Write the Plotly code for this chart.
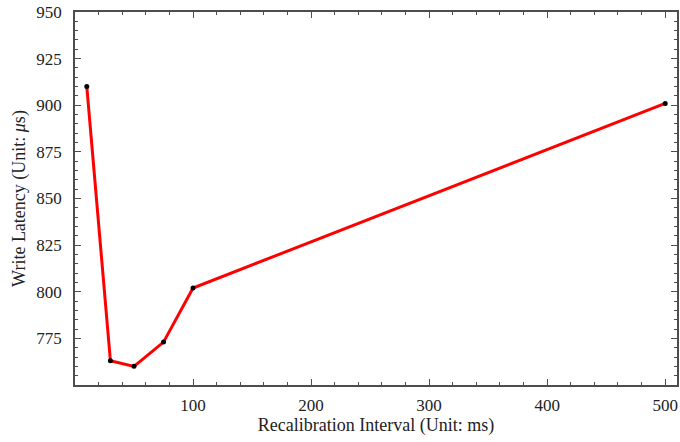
import plotly.graph_objects as go

interval_ms = [10, 30, 50, 75, 100, 500]
latency_us = [910, 763, 760, 773, 802, 901]
x_ticks = [100, 200, 300, 400, 500]
y_ticks = [775, 800, 825, 850, 875, 900, 925, 950]

font = "Liberation Serif, Times New Roman, serif"
axcol = "#4d4d4d"

fig = go.Figure()
fig.add_trace(go.Scatter(
    x=interval_ms, y=latency_us, mode="lines+markers",
    line=dict(color="#ff0000", width=3),
    marker=dict(color="black", size=5, symbol="circle"),
    showlegend=False,
))

common = dict(
    showline=True, linecolor=axcol, linewidth=1.5, mirror="allticks",
    ticks="inside", ticklen=6, tickwidth=1.2, tickcolor=axcol,
    showgrid=False, zeroline=False,
    tickfont=dict(family=font, size=17, color="#222"),
)

fig.update_xaxes(
    range=[0, 510], tickmode="array", tickvals=x_ticks,
    ticklabelstandoff=4,
    title=dict(text="Recalibration Interval (Unit: ms)", font=dict(family=font, size=18, color="#222"), standoff=4),
    minor=dict(tickmode="linear", tick0=0, dtick=20, ticks="inside", ticklen=3, tickcolor=axcol, tickwidth=1),
    **common,
)
fig.update_yaxes(
    range=[750, 950], tickmode="array", tickvals=y_ticks,
    ticklabelstandoff=8,
    title=dict(text="Write Latency (Unit: <i>μ</i>s)", font=dict(family=font, size=18, color="#222"), standoff=6),
    minor=dict(tickmode="linear", tick0=750, dtick=5, ticks="inside", ticklen=3, tickcolor=axcol, tickwidth=1),
    **common,
)

fig.update_layout(
    width=680, height=442,
    margin=dict(l=75, r=1, t=12, b=57),
    plot_bgcolor="white", paper_bgcolor="white",
    font=dict(family=font),
)

fig.write_html("out.html")
